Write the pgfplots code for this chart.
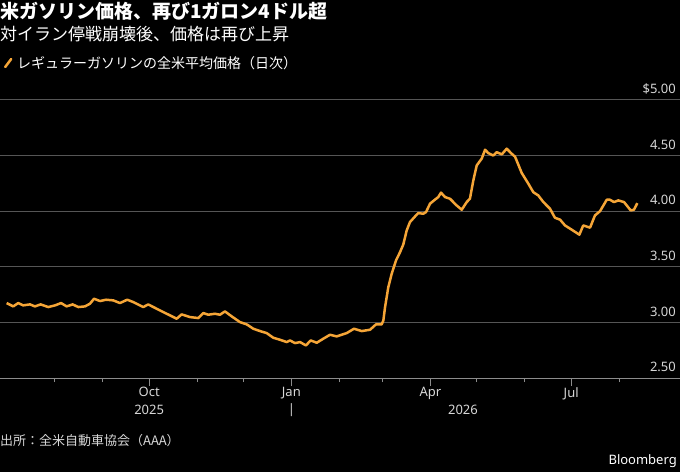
\documentclass[border=0pt]{standalone}
\usepackage{pgfplots}
\pgfplotsset{compat=1.18}
\usepackage{pgfplotstable}
\usepackage{fontspec}
\setmainfont{Noto Sans}
\newfontfamily\cjk{Noto Sans CJK JP}
\definecolor{lineor}{RGB}{245,165,55}
\definecolor{gridc}{RGB}{85,85,85}
\definecolor{axc}{RGB}{140,140,140}
\definecolor{labc}{RGB}{215,215,215}
\pgfplotstableread{
day price
-184.2 3.174
-179.9 3.144
-176.7 3.174
-173.5 3.153
-169.1 3.162
-165.9 3.144
-162.2 3.162
-157.3 3.138
-152.9 3.153
-149.0 3.174
-145.4 3.144
-141.5 3.162
-137.9 3.138
-133.5 3.144
-130.3 3.168
-127.7 3.213
-123.8 3.192
-119.9 3.204
-115.2 3.198
-110.9 3.174
-106.2 3.204
-102.3 3.183
-95.8 3.138
-92.6 3.162
-89.3 3.138
-82.9 3.093
-78.5 3.063
-74.2 3.033
-71.0 3.072
-65.6 3.048
-60.2 3.039
-57.0 3.084
-53.8 3.069
-49.4 3.078
-46.2 3.069
-43.0 3.099
-38.6 3.054
-33.3 3.003
-28.9 2.982
-24.6 2.943
-20.3 2.922
-16.0 2.904
-11.7 2.862
-7.4 2.844
-3.0 2.823
-0.9 2.838
2.3 2.814
5.6 2.823
9.4 2.793
12.5 2.838
16.4 2.817
20.6 2.853
25.0 2.889
29.3 2.874
35.8 2.904
40.5 2.943
45.5 2.922
50.9 2.934
54.7 2.982
58.4 2.982
59.5 3.018
60.6 3.138
62.7 3.317
64.9 3.438
67.7 3.558
70.3 3.632
72.4 3.701
74.6 3.827
76.7 3.902
80.0 3.953
82.1 3.983
85.3 3.977
87.1 3.992
89.7 4.068
92.9 4.104
95.0 4.127
96.8 4.167
99.4 4.127
102.6 4.112
106.9 4.052
110.2 4.013
113.4 4.082
115.5 4.112
117.7 4.277
119.9 4.412
123.1 4.472
125.3 4.553
127.4 4.522
130.6 4.501
132.8 4.531
136.1 4.511
139.3 4.562
142.5 4.517
144.7 4.490
149.0 4.344
153.3 4.247
156.5 4.171
159.7 4.142
163.0 4.082
167.3 4.022
170.5 3.941
173.8 3.924
177.0 3.872
181.3 3.834
186.3 3.789
188.8 3.872
193.2 3.852
196.4 3.962
199.7 4.001
204.0 4.103
206.1 4.103
208.7 4.082
211.5 4.097
215.2 4.082
219.5 4.007
221.6 4.013
223.8 4.073
}\gas
\begin{document}
\begin{tikzpicture}[x=1pt,y=1pt]
\path[use as bounding box, fill=black] (0,0) rectangle (680,472);
\node[anchor=west, inner sep=0pt, font=\cjk\bfseries\fontsize{19}{22}\selectfont, text=white] at (0,461) {米ガソリン価格、再び1ガロン4ドル超};
\node[anchor=west, inner sep=0pt, font=\cjk\fontsize{17}{20}\selectfont, text=white] at (0,438) {対イラン停戦崩壊後、価格は再び上昇};
\node[anchor=west, inner sep=0pt, font=\cjk\fontsize{13}{15}\selectfont, text=labc] at (0,31) {出所：全米自動車協会（AAA）};
\node[anchor=east, inner sep=0pt, font=\bfseries\fontsize{13}{15}\selectfont, text=white] at (677,11) {Bloomberg};
\begin{axis}[
  at={(0pt,94pt)}, anchor=south west,
  width=680pt, height=278pt, scale only axis,
  xmin=-188.5, xmax=251.4, ymin=2.5, ymax=5.0,
  clip=false,
  axis x line*=bottom, axis y line*=right,
  x axis line style={draw=axc, line width=1pt, -},
  y axis line style={draw=none},
  ytick={2.5,3,3.5,4,4.5,5},
  yticklabels={2.50,3.00,3.50,4.00,4.50,\$5.00},
  ymajorgrids, grid style={gridc, line width=1pt},
  ytick style={draw=none},
  yticklabel style={anchor=south east, text=labc, font=\fontsize{13}{15}\selectfont, inner sep=0pt, xshift=-12pt, yshift=6pt},
  xtick={-92,0,90,181},
  xticklabels={Oct,Jan,Apr,Jul},
  minor xtick={-153,-122,-61,-31,31,59,120,151,212},
  tick align=outside,
  major tick length=8pt, minor tick length=4pt,
  xtick style={axc, line width=1pt},
  xticklabel style={text=labc, font=\fontsize{13}{15}\selectfont, inner sep=0pt, yshift=-1pt},
  /pgf/number format/assume math mode=true,
  legend style={at={(0,1)}, anchor=west, yshift=37pt, draw=none, fill=none, text=white, font=\cjk\fontsize{14}{16}\selectfont, inner sep=0pt, legend cell align=left},
  legend image code/.code={\path[draw=none, fill=none] (0pt,0pt) -- (15pt,0pt); \draw[#1, line cap=round] (5pt,-4pt) -- (11pt,4pt);},
]
\addplot[lineor, line width=2.5pt, line join=round] table[x=day,y=price]{\gas};
\addlegendentry{レギュラーガソリンの全米平均価格（日次）}
\node[text=labc, font=\fontsize{13}{15}\selectfont, inner sep=0pt] at (axis cs:-92,2.5) [yshift=-32pt] {2025};
\node[text=labc, font=\fontsize{13}{15}\selectfont, inner sep=0pt] at (axis cs:0,2.5) [yshift=-32pt] {|};
\node[text=labc, font=\fontsize{13}{15}\selectfont, inner sep=0pt] at (axis cs:111,2.5) [yshift=-32pt] {2026};
\end{axis}
\end{tikzpicture}
\end{document}
